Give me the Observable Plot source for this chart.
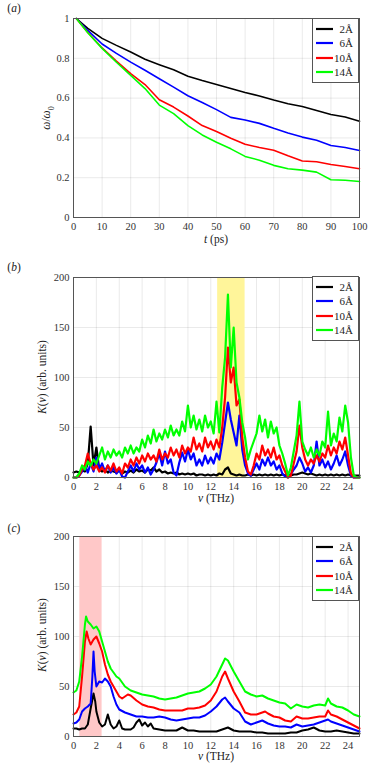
<!DOCTYPE html>
<html><head><meta charset="utf-8">
<script src="https://cdn.jsdelivr.net/npm/d3@7"></script>
<script src="https://cdn.jsdelivr.net/npm/@observablehq/plot@0.6"></script>
<style>
body{margin:0;background:#fff;}
#root{position:relative;width:374px;height:766px;font-family:"Liberation Serif","DejaVu Serif","Times New Roman",serif;color:#222;overflow:hidden;}
.plot{position:absolute;left:0;}
.lbl{position:absolute;font-size:11.5px;white-space:nowrap;transform:translate(-50%,-50%);}
.ylbl{transform:translate(-50%,-50%) rotate(-90deg);}
.legend{position:absolute;left:312px;width:45px;border:1px solid #555;background:#fff;padding:3px 0;font-size:11px;}
.row{display:flex;align-items:center;height:14.3px;}
.row span{flex:1;text-align:right;padding-right:5px;}
.row svg{margin-left:3px;}
</style></head>
<body><div id="root"></div>
<script>
// ---------- data ----------
const series = ["2Å", "6Å", "10Å", "14Å"];
const colors = ["#000000", "#0000ff", "#ff0000", "#00ff00"];

// (a) decay of omega/omega0
const aT = [1, 5, 10, 15, 20, 25, 30, 35, 40, 45, 50, 55, 60, 65, 70, 75, 80, 85, 90, 95, 100];
const a2 = [1.0, 0.95, 0.9, 0.865, 0.832, 0.795, 0.768, 0.742, 0.71, 0.688, 0.668, 0.648, 0.628, 0.611, 0.59, 0.572, 0.558, 0.538, 0.518, 0.505, 0.484];
const a6 = [1.0, 0.94, 0.872, 0.825, 0.781, 0.74, 0.697, 0.655, 0.612, 0.578, 0.542, 0.503, 0.49, 0.473, 0.448, 0.425, 0.404, 0.388, 0.362, 0.352, 0.337];
const a10 = [1.0, 0.93, 0.852, 0.786, 0.723, 0.668, 0.592, 0.555, 0.51, 0.462, 0.432, 0.398, 0.368, 0.352, 0.338, 0.31, 0.284, 0.28, 0.266, 0.256, 0.245];
const a14 = [1.0, 0.928, 0.85, 0.78, 0.714, 0.648, 0.565, 0.522, 0.462, 0.415, 0.378, 0.345, 0.307, 0.288, 0.262, 0.245, 0.238, 0.228, 0.19, 0.187, 0.181];
const aXTicks = [0, 10, 20, 30, 40, 50, 60, 70, 80, 90, 100];
const aYTicks = [0, 0.2, 0.4, 0.6, 0.8, 1];

// (b) spectra, sampled every 0.25 THz from 0 to 25
const bStep = 0.25;
const b2 = [5,6,5,7,6,14,51,12,30,8,6,8,5,7,6,5,7,4,6,5,
  7,5,8,6,7,5,8,7,10,6,8,5,6,4,5,4,5,3,4,3,
  4,3,4,2,3,3,2,3,2,3,2,4,3,8,10,4,3,2,3,2,
  2,3,2,3,2,3,2,3,2,3,2,3,2,3,2,3,2,3,3,4,
  5,4,3,4,3,2,3,2,3,2,3,2,3,2,3,2,3,2,2,2,2];
const b6 = [0,0,2,6,12,5,14,6,20,8,14,6,12,5,10,4,8,1,0,6,
  12,6,14,8,12,5,10,3,8,15,24,12,26,14,18,5,2,15,25,16,
  28,18,24,12,18,12,22,14,20,14,24,18,35,55,75,58,45,32,62,28,
  12,4,2,8,14,8,18,12,20,12,16,8,12,4,1,0,3,8,12,20,
  14,6,10,5,12,36,12,18,10,16,8,14,22,12,18,26,12,2,0,0,0];
const b10 = [0,0,2,8,12,24,14,8,12,6,10,5,12,7,14,6,10,4,14,10,
  18,12,20,14,22,16,24,18,22,16,28,18,24,20,30,22,28,20,32,24,
  30,26,40,28,34,26,40,30,36,28,38,30,50,80,130,95,110,72,78,40,
  20,6,3,12,24,18,32,22,28,20,30,18,22,12,6,0,2,14,26,52,
  30,18,12,18,14,22,16,24,20,32,22,30,24,36,28,40,22,4,0,0,0];
const b14 = [0,0,4,12,8,16,12,18,14,22,30,18,26,20,28,22,26,20,30,24,
  32,24,30,26,38,30,42,34,48,36,44,38,48,40,52,42,48,42,56,46,
  72,50,62,48,58,46,62,50,56,44,76,45,90,120,183,110,150,95,80,55,
  40,18,28,36,44,62,46,58,40,56,44,50,32,24,14,2,10,26,42,76,
  36,28,22,30,20,28,22,36,30,66,32,44,36,60,46,72,55,20,2,0,0];
const bBand = [{from: 12.6, to: 15}];

// (c) spectra, [nu, K]
const c2 = [[0,8],[0.25,8],[0.5,7],[0.75,8],[1,8],[1.25,12],[1.5,28],[1.75,43],[1.9,35],[2,25],[2.25,14],[2.5,10],[2.75,12],[3,22],[3.25,12],[3.5,8],[3.75,10],[4,16],[4.25,8],[4.5,7],[5,7],[5.25,9],[5.5,14],[5.75,17],[6,11],[6.25,14],[6.5,10],[6.75,13],[7,8],[7.5,7],[8,6],[8.5,6],[9,6],[9.5,9],[10,6],[10.5,6],[11,5],[11.5,5],[12,5],[12.5,5],[13,7],[13.5,9],[14,6],[14.5,5],[15,5],[15.5,5],[16,4],[16.5,4],[17,3],[17.5,3],[18,3],[18.5,3],[19,4],[19.5,4],[20,6],[20.5,7],[21,9],[21.5,6],[22,5],[22.5,5],[23,6],[23.5,5],[24,4],[24.5,3],[25,3]];
const c6 = [[0,13],[0.25,14],[0.5,17],[0.75,25],[1,28],[1.25,30],[1.5,33],[1.65,60],[1.75,85],[1.85,65],[2,50],[2.25,55],[2.5,54],[2.75,58],[3,55],[3.25,50],[3.5,40],[3.75,32],[4,27],[4.5,24],[5,22],[5.5,20],[6,20],[6.5,19],[7,19],[7.5,20],[8,19],[8.5,17],[9,16],[9.5,17],[10,18],[10.5,19],[11,19],[11.5,21],[12,25],[12.5,30],[13,37],[13.25,39],[13.5,35],[14,28],[14.5,24],[15,15],[15.5,12],[16,14],[16.5,16],[17,13],[17.5,11],[18,10],[18.5,10],[19,9],[19.5,12],[20,10],[20.5,11],[21,12],[21.5,14],[22,16],[22.25,17],[22.5,15],[23,13],[23.5,11],[24,9],[24.5,7],[25,5]];
const c10 = [[0,22],[0.25,24],[0.5,30],[0.75,60],[1,95],[1.15,105],[1.3,98],[1.5,92],[1.75,97],[2,100],[2.25,93],[2.5,85],[2.75,72],[3,62],[3.25,55],[3.5,50],[3.75,45],[4,40],[4.25,38],[4.5,40],[4.75,42],[5,41],[5.5,36],[6,32],[6.5,30],[7,29],[7.5,27],[8,26],[8.5,26],[9,26],[9.5,26],[10,28],[10.5,28],[11,29],[11.5,31],[12,36],[12.5,45],[13,60],[13.25,65],[13.5,58],[14,45],[14.5,35],[15,24],[15.5,22],[16,22],[16.5,24],[16.75,25],[17,23],[17.5,20],[18,19],[18.5,16],[19,15],[19.5,20],[20,18],[20.5,18],[21,19],[21.5,20],[22,20],[22.25,26],[22.5,22],[23,20],[23.5,17],[24,14],[24.5,11],[25,8]];
const c14 = [[0,44],[0.25,46],[0.5,55],[0.75,80],[1,112],[1.1,120],[1.25,115],[1.5,112],[1.75,108],[2,110],[2.25,105],[2.5,95],[2.75,85],[3,75],[3.25,68],[3.5,64],[3.75,60],[4,58],[4.5,50],[5,46],[5.5,44],[6,42],[6.5,41],[7,40],[7.5,38],[8,37],[8.5,38],[9,39],[9.5,41],[10,43],[10.5,44],[11,45],[11.5,48],[12,52],[12.5,60],[13,72],[13.25,78],[13.5,76],[14,65],[14.5,55],[15,45],[15.5,42],[16,40],[16.5,41],[17,38],[17.5,36],[18,34],[18.5,33],[19,28],[19.5,32],[20,30],[20.5,29],[21,31],[21.5,32],[22,31],[22.25,38],[22.5,33],[23,30],[23.5,29],[24,26],[24.5,22],[25,20]];
const cBand = [{from: 0.55, to: 2.5}];
const nuTicks = [0, 2, 4, 6, 8, 10, 12, 14, 16, 18, 20, 22, 24];
const kTicks = [0, 50, 100, 150, 200];

// ---------- drawing ----------
const root = document.getElementById("root");
const style = {fontFamily: "'Liberation Serif', 'DejaVu Serif', 'Times New Roman', serif", fontSize: "10.5px", color: "#333", background: "transparent"};

function place(svg, top) {
  const d = document.createElement("div");
  d.className = "plot"; d.style.top = top + "px";
  d.appendChild(svg); root.appendChild(d);
}
function label(html, x, y, rot) {
  const d = document.createElement("div");
  d.className = "lbl" + (rot ? " ylbl" : "");
  d.style.left = x + "px"; d.style.top = y + "px";
  d.innerHTML = html; root.appendChild(d);
}
function legend(top) {
  const d = document.createElement("div");
  d.className = "legend"; d.style.top = top + "px";
  series.forEach((s, i) => {
    const r = document.createElement("div"); r.className = "row";
    r.innerHTML = `<svg width="17" height="4"><line x1="0" x2="17" y1="2" y2="2" stroke="${colors[i]}" stroke-width="2.2"/></svg><span>${s}</span>`;
    d.appendChild(r);
  });
  root.appendChild(d);
}

// Panel (a)
const aSeries = [a2, a6, a10, a14];
place(Plot.plot({
  width: 374, height: 250, marginLeft: 73, marginRight: 15, marginTop: 18, marginBottom: 33,
  style,
  x: {domain: [0, 100], ticks: aXTicks, grid: true, label: null, tickSize: 0, tickPadding: 5},
  y: {domain: [0, 1], ticks: aYTicks, grid: true, label: null, tickSize: 0, tickPadding: 4, tickFormat: d3.format("~g")},
  marks: [
    ...aSeries.map((s, k) => Plot.line(s, {x: (d, i) => aT[i], y: d => d, stroke: colors[k], strokeWidth: 1.6})),
    Plot.frame({stroke: "#555"})
  ]
}), 0);

// Panel (b)
const bSeries = [b2, b6, b10, b14];
place(Plot.plot({
  width: 374, height: 255, marginLeft: 73, marginRight: 15, marginTop: 27, marginBottom: 28,
  style,
  x: {domain: [0, 25], ticks: nuTicks, grid: true, label: null, tickSize: 0, tickPadding: 5},
  y: {domain: [0, 200], ticks: kTicks, grid: true, label: null, tickSize: 0, tickPadding: 4},
  marks: [
    Plot.rect(bBand, {x1: "from", x2: "to", fill: "#fff59a"}),
    ...bSeries.map((s, k) => Plot.line(s, {x: (d, i) => i * bStep, y: d => d, stroke: colors[k], strokeWidth: 2.2, strokeLinejoin: "round"})),
    Plot.frame({stroke: "#555"})
  ]
}), 250);

// Panel (c)
const cSeries = [c2, c6, c10, c14];
place(Plot.plot({
  width: 374, height: 261, marginLeft: 73, marginRight: 15, marginTop: 31, marginBottom: 30,
  style,
  x: {domain: [0, 25], ticks: nuTicks, grid: true, label: null, tickSize: 0, tickPadding: 5},
  y: {domain: [0, 200], ticks: kTicks, grid: true, label: null, tickSize: 0, tickPadding: 4},
  marks: [
    Plot.rect(cBand, {x1: "from", x2: "to", fill: "#ffc8c8"}),
    ...cSeries.map((s, k) => Plot.line(s, {x: d => d[0], y: d => d[1], stroke: colors[k], strokeWidth: 2})),
    Plot.frame({stroke: "#555"})
  ]
}), 505);

// Labels
label("(<i>a</i>)", 14, 8);
label("<i>ω</i>/<i>ω</i><sub style='font-size:8px'>0</sub>", 48, 118, true);
label("<i>t</i> (ps)", 216, 239);
label("(<i>b</i>)", 14, 267);
label("<i>K</i>(<i>ν</i>) (arb. units)", 42, 377, true);
label("<i>ν</i> (THz)", 216, 498);
label("(<i>c</i>)", 14, 528);
label("<i>K</i>(<i>ν</i>) (arb. units)", 42, 635, true);
label("<i>ν</i> (THz)", 216, 756);

legend(18);
legend(276);
legend(536);
</script></body></html>
